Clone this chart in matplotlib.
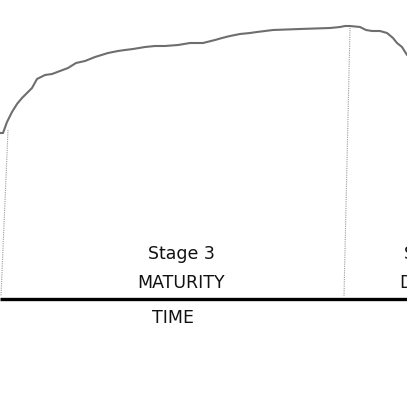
import matplotlib.pyplot as plt

# growth curve (x, height from top in pixels)
curve_x = [0, 3, 7, 12, 17, 22, 27, 32, 37, 45, 52, 60, 68, 76, 85, 95, 108, 118, 125, 133,
           145, 155, 165, 178, 190, 203, 215, 222, 230, 240, 250, 257, 265, 273, 300, 330,
           340, 345, 350, 355, 360, 366, 372, 380, 387, 393, 397, 402, 407]
curve_y = [133, 133, 122, 112, 104, 98, 93, 88, 79, 75, 74, 71, 68, 63, 61, 57, 53, 51, 50, 49,
           47, 46, 46, 45, 43, 43, 40, 38, 36, 34, 33, 32, 31, 30, 29, 28,
           27, 26, 26, 26.5, 27, 30, 31, 31, 33, 38, 43, 47, 55]

# stage boundaries (dotted verticals): top and bottom points
boundary_x = [(8, 1), (350, 344)]
boundary_y = [(130, 296), (28, 296)]

stage_labels = [("Stage 3", "MATURITY", 181), ("Stage 4", "DECLINE", 437)]
axis_label = "TIME"

fig = plt.figure(figsize=(4.07, 4.07), dpi=100)
ax = fig.add_axes([0, 0, 1, 1])
ax.set_xlim(0, 407)
ax.set_ylim(407, 0)
ax.axis("off")

ax.plot(curve_x, curve_y, color="#6e6e6e", lw=1.5, solid_capstyle="round")

for bx, by in zip(boundary_x, boundary_y):
    ax.plot(bx, by, color="#9a9a9a", lw=0.8, ls=(0, (1, 1)))

ax.plot([0, 407], [298.5, 298.5], color="black", lw=2.4, solid_capstyle="butt")

for top, bottom, cx in stage_labels:
    ax.text(cx, 254, top, ha="center", va="center", fontsize=12.5, family="DejaVu Sans",
            color="#111111")
    ax.text(cx, 283, bottom, ha="center", va="center", fontsize=12.5, family="DejaVu Sans",
            color="#111111")

ax.text(173, 318, axis_label, ha="center", va="center", fontsize=12.5, family="DejaVu Sans",
        color="#111111")

fig.savefig("out.png", dpi=100)
